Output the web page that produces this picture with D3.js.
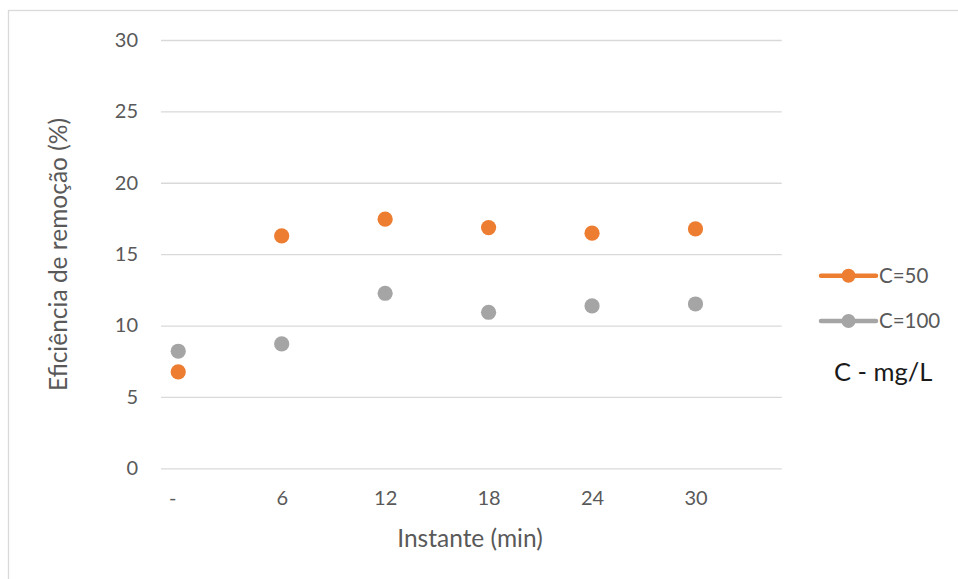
<!DOCTYPE html>
<html><head><meta charset="utf-8">
<script src="https://cdn.jsdelivr.net/npm/d3@7"></script>
<style>body{margin:0;background:#fff}svg{display:block}text{font-family:Lato,"Open Sans",sans-serif}</style>
</head><body><svg id="c" width="958" height="579"></svg>
<script>
const categories = [0, 6, 12, 18, 24, 30];
const tickLabels = ["-", "6", "12", "18", "24", "30"];
const seriesNames = ["C=50", "C=100"];
const c50 = [6.75, 16.28, 17.45, 16.86, 16.47, 16.77];
const c100 = [8.2, 8.71, 12.26, 10.93, 11.37, 11.51];
const yTicks = [0, 5, 10, 15, 20, 25, 30];
const colors = ["#ED7D31", "#A5A5A5"];

const svg = d3.select("#c");
svg.append("rect").attr("x", 8.5).attr("y", 10.5).attr("width", 1000).attr("height", 700)
  .attr("fill", "none").attr("stroke", "#d9d9d9").attr("stroke-width", 1.3);

const x = d3.scaleLinear().domain([-1, 35]).range([161, 781.7]);
const y = d3.scaleLinear().domain([0, 30]).range([468.3, 40]);

// gridlines
const yAxis = d3.axisLeft(y).tickValues(yTicks).tickSize(-(781.7 - 161)).tickPadding(23);
const gy = svg.append("g").attr("transform", "translate(161,0)").call(yAxis);
gy.select(".domain").remove();
gy.selectAll(".tick line").attr("stroke", "#d9d9d9").attr("stroke-width", 1.3);
gy.selectAll(".tick text").attr("fill", "#595959").style("font-size", "20px");

const xAxis = d3.axisBottom(x).tickValues(categories).tickFormat((d, i) => tickLabels[i]).tickSize(0).tickPadding(23);
const gx = svg.append("g").attr("transform", "translate(0,468.3)").call(xAxis);
gx.select(".domain").remove();
gx.selectAll(".tick text").attr("fill", "#595959").style("font-size", "20px")
  .attr("dx", (d, i) => i === 0 ? -6 : 0);

// axis titles
svg.append("text").attr("transform", "translate(67,254.5) rotate(-90)").attr("text-anchor", "middle")
  .attr("fill", "#595959").style("font-size", "24.5px").text("Eficiência de remoção (%)");
svg.append("text").attr("x", 470).attr("y", 547).attr("text-anchor", "middle")
  .attr("fill", "#595959").style("font-size", "24.5px").text("Instante (min)");

// points
[c50, c100].forEach((s, k) => {
  svg.append("g").selectAll("circle").data(s).join("circle")
    .attr("cx", (d, i) => x(categories[i])).attr("cy", d => y(d)).attr("r", 7.6)
    .attr("fill", colors[k]);
});

// legend
const ly = [275.7, 321];
seriesNames.forEach((n, k) => {
  const g = svg.append("g");
  g.append("line").attr("x1", 821).attr("x2", 876).attr("y1", ly[k]).attr("y2", ly[k])
    .attr("stroke", colors[k]).attr("stroke-width", 4.5).attr("stroke-linecap", "round");
  g.append("circle").attr("cx", 848.5).attr("cy", ly[k]).attr("r", 7).attr("fill", colors[k]);
  g.append("text").attr("x", 879).attr("y", ly[k] + 7).attr("fill", "#595959").style("font-size", "20.5px").text(n);
});
svg.append("text").attr("x", 834).attr("y", 381).attr("fill", "#1a1a1a").style("font-size", "25.5px").text("C - mg/L");
</script></body></html>
